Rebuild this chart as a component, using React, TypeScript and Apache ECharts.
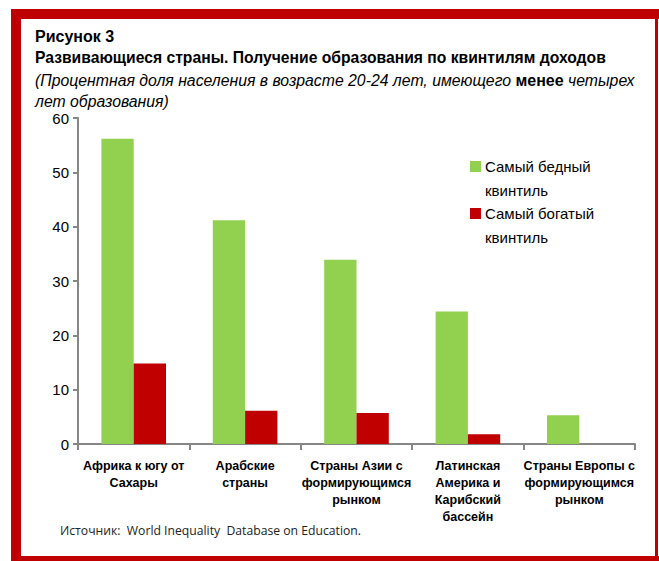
import React, { useEffect, useRef } from "react";
import * as echarts from "echarts";

const categories = [
  "Африка к югу от\nСахары",
  "Арабские\nстраны",
  "Страны Азии с\nформирующимся\nрынком",
  "Латинская\nАмерика и\nКарибский\nбассейн",
  "Страны Европы с\nформирующимся\nрынком",
];
const poorest = [56.2, 41.2, 33.9, 24.4, 5.3];
const richest = [14.8, 6.1, 5.7, 1.8, null];
const seriesNames = ["Самый бедный\nквинтиль", "Самый богатый\nквинтиль"];
const colors = ["#92D050", "#C00000"];

const NARROW = "'Liberation Sans Narrow', 'Arial Narrow', 'Liberation Sans', sans-serif";
const ARIAL = "'Liberation Sans', Arial, sans-serif";

export default function App() {
  const ref = useRef<HTMLDivElement>(null);
  useEffect(() => {
    if (!ref.current) return;
    const chart = echarts.init(ref.current, null, { renderer: "svg" });
    const legendGraphics: any[] = [];
    seriesNames.forEach((name, i) => {
      const y0 = 161 + i * 47;
      legendGraphics.push({
        type: "rect",
        left: 470,
        top: y0,
        shape: { width: 11, height: 11 },
        style: { fill: colors[i] },
      });
      legendGraphics.push({
        type: "text",
        left: 485,
        top: y0 - 7,
        style: {
          text: name,
          fill: "#000",
          font: `15px ${ARIAL}`,
          lineHeight: 24,
        },
      });
    });
    chart.setOption({
      animation: false,
      backgroundColor: "#fff",
      grid: { left: 78, right: 24, top: 118, bottom: 117, containLabel: false },
      xAxis: {
        type: "category",
        data: categories,
        axisLine: { lineStyle: { color: "#868686", width: 2 } },
        axisTick: { show: true, length: 6, lineStyle: { color: "#868686", width: 2 } },
        axisLabel: {
          interval: 0,
          color: "#000",
          fontWeight: "bold",
          fontSize: 12.5,
          fontFamily: NARROW,
          lineHeight: 17,
          margin: 13,
        },
      },
      yAxis: {
        type: "value",
        min: 0,
        max: 60,
        interval: 10,
        splitLine: { show: false },
        axisLine: { show: true, lineStyle: { color: "#868686", width: 2 } },
        axisTick: { show: true, length: 5, lineStyle: { color: "#868686", width: 2 } },
        axisLabel: { color: "#000", fontSize: 15, fontFamily: ARIAL, margin: 9 },
      },
      series: [
        {
          name: seriesNames[0],
          type: "bar",
          data: poorest,
          itemStyle: { color: colors[0] },
          barGap: "0%",
          barCategoryGap: "42%",
        },
        {
          name: seriesNames[1],
          type: "bar",
          data: richest,
          itemStyle: { color: colors[1] },
          barGap: "0%",
          barCategoryGap: "42%",
        },
      ],
      graphic: [
        { type: "rect", left: 11, top: 9, shape: { width: 10, height: 552 }, style: { fill: "#C00000" } },
        { type: "rect", left: 11, top: 9, shape: { width: 648, height: 10 }, style: { fill: "#C00000" } },
        { type: "rect", left: 655, top: 9, shape: { width: 3, height: 552 }, style: { fill: "#C00000" } },
        { type: "rect", left: 11, top: 556, shape: { width: 648, height: 5 }, style: { fill: "#C00000" } },
        {
          type: "text",
          left: 35,
          top: 28,
          style: { text: "Рисунок 3", fill: "#000", font: `bold 16px ${NARROW}` },
        },
        {
          type: "text",
          left: 35,
          top: 49,
          style: {
            text: "Развивающиеся страны. Получение образования по квинтилям доходов",
            fill: "#000",
            font: `bold 15.7px ${NARROW}`,
          },
        },
        {
          type: "text",
          left: 35,
          top: 70,
          style: {
            text: "{i|(Процентная доля населения в возрасте 20-24 лет, имеющего }{b|менее}{i| четырех}\n{i|лет образования)}",
            fill: "#000",
            lineHeight: 21,
            rich: {
              i: { font: `italic 15.8px ${NARROW}`, lineHeight: 21, fill: "#000" },
              b: { font: `bold 16px ${ARIAL}`, lineHeight: 21, fill: "#000" },
            },
          },
        },
        {
          type: "text",
          left: 60,
          top: 524,
          style: {
            text: "Источник:  World Inequality  Database on Education.",
            fill: "#222",
            font: `12.2px 'Open Sans', sans-serif`,
          },
        },
        ...legendGraphics,
      ],
    });
    return () => chart.dispose();
  }, []);
  return (
    <div
      ref={ref}
      style={{ position: "fixed", left: 0, top: 0, width: 659, height: 561 }}
    />
  );
}
